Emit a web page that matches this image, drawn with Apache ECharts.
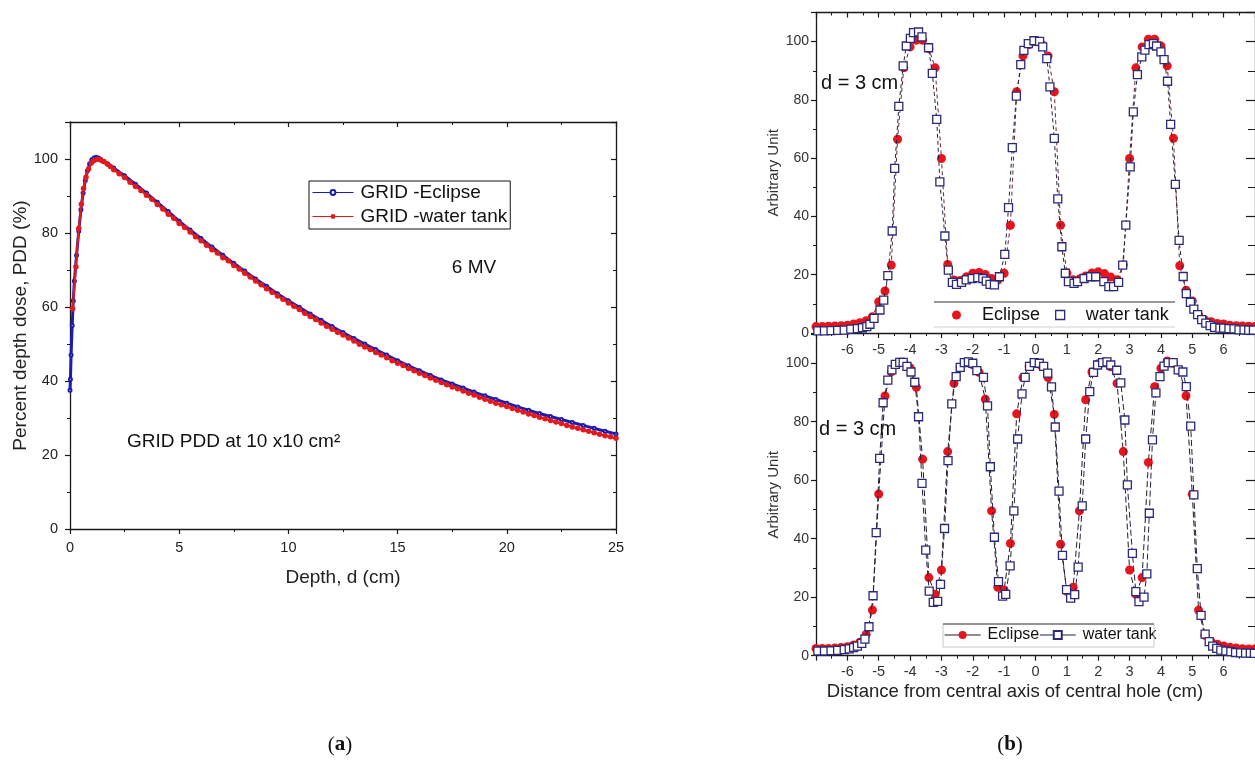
<!DOCTYPE html>
<html>
<head>
<meta charset="utf-8">
<script src="https://cdn.jsdelivr.net/npm/echarts@6/dist/echarts.min.js"></script>
<style>
html,body{margin:0;padding:0;background:#fff;}
#chart{width:1255px;height:765px;}
</style>
</head>
<body>
<div id="chart"></div>
<script>
// ---------- (a) PDD data ----------
const pddEclipse = [[0,37.5],[0.02,40.5],[0.05,47],[0.1,55],[0.15,61.7],[0.2,67],[0.3,74],[0.4,80.5],[0.5,86.3],[0.6,90.8],[0.7,94.2],[0.8,96.8],[0.9,98.7],[1.0,99.8],[1.1,100.3],[1.2,100.5],[1.3,100.3],[1.4,99.9],[1.5,99.4],[1.75,98.5],[2.0,97.6],[2.5,95.5],[3,93.2],[3.5,90.8],[4,88.3],[4.5,85.8],[5,83.2],[5.5,80.8],[6,78.5],[6.5,76.2],[7,74.0],[7.5,71.8],[8,69.7],[8.5,67.6],[9,65.6],[9.5,63.6],[10,61.7],[10.5,59.9],[11,58.1],[11.5,56.4],[12,54.7],[12.5,53.1],[13,51.5],[13.5,50.0],[14,48.5],[14.5,47.0],[15,45.5],[15.5,44.1],[16,42.8],[16.5,41.5],[17,40.3],[17.5,39.2],[18,38.1],[18.5,37.0],[19,36.0],[19.5,35.0],[20,34.0],[20.5,33.0],[21,32.1],[21.5,31.2],[22,30.4],[22.5,29.6],[23,28.8],[23.5,28.0],[24,27.2],[24.5,26.4],[25,25.7]];
const pddWater = [[0.12,59.5],[0.27,70.9],[0.4,81.2],[0.52,87.8],[0.62,92.0],[0.73,95.1],[0.85,97.3],[0.98,98.9],[1.1,99.6],[1.25,99.9],[1.4,99.7],[1.55,99.3],[1.7,98.7],[1.85,98.0],
[2.0,97.1],[2.25,96.0],[2.5,95.0],[2.75,93.7],[3.0,92.6],[3.25,91.5],[3.5,90.2],[3.75,89.1],[4.0,87.7],[4.25,86.5],[4.5,85.1],[4.75,84.0],[5.0,82.6],[5.25,81.5],[5.5,80.3],[5.75,79.0],[6.0,77.9],[6.25,76.7],[6.5,75.5],[6.75,74.6],[7.0,73.3],[7.25,72.5],[7.5,71.2],[7.75,70.3],[8.0,69.1],[8.25,68.1],[8.5,67.0],[8.75,66.0],[9.0,64.9],[9.25,64.0],[9.5,63.0],[9.75,62.1],[10.0,61.1],[10.25,60.2],[10.5,59.3],[10.75,58.3],[11.0,57.4],[11.25,56.6],[11.5,55.7],[11.75,54.8],[12.0,54.0],[12.25,53.2],[12.5,52.4],[12.75,51.6],[13.0,50.8],[13.25,49.9],[13.5,49.2],[13.75,48.5],[14.0,47.7],[14.25,47.0],[14.5,46.3],[14.75,45.5],[15.0,44.8],[15.25,44.2],[15.5,43.4],[15.75,42.8],[16.0,42.1],[16.25,41.5],[16.5,40.8],[16.75,40.2],[17.0,39.6],[17.25,39.0],[17.5,38.4],[17.75,37.9],[18.0,37.3],[18.25,36.7],[18.5,36.2],[18.75,35.6],[19.0,35.1],[19.25,34.5],[19.5,34.0],[19.75,33.6],[20.0,33.1],[20.25,32.6],[20.5,32.1],[20.75,31.6],[21.0,31.1],[21.25,30.7],[21.5,30.2],[21.75,29.8],[22.0,29.3],[22.25,28.9],[22.5,28.5],[22.75,28.0],[23.0,27.6],[23.25,27.2],[23.5,26.8],[23.75,26.4],[24.0,26.0],[24.25,25.6],[24.5,25.2],[24.75,24.9],[25.0,24.5]];

// ---------- (b) profile data ----------
const eclipseX = [-7.0,-6.8,-6.6,-6.4,-6.2,-6.0,-5.8,-5.6,-5.4,-5.2,-5.0,-4.8,-4.6,-4.4,-4.2,-4.0,-3.8,-3.6,-3.4,-3.2,-3.0,-2.8,-2.6,-2.4,-2.2,-2.0,-1.8,-1.6,-1.4,-1.2,-1.0,-0.8,-0.6,-0.4,-0.2,0,0.2,0.4,0.6,0.8,1.0,1.2,1.4,1.6,1.8,2.0,2.2,2.4,2.6,2.8,3.0,3.2,3.4,3.6,3.8,4.0,4.2,4.4,4.6,4.8,5.0,5.2,5.4,5.6,5.8,6.0,6.2,6.4,6.6,6.8,7.0];
const eclipseTop = [2.2,2.2,2.3,2.4,2.5,2.7,3.1,3.5,4.2,5.6, 10.7,14.4,23.3,66.5,91.0,98.2,100.5,100.5,97.6,91.0, 59.9,23.5,18.2,18.0,19.3,20.5,20.8,20.1,18.7,18.2, 20.5,37.0,82.8,95.1,99.0,100.0,99.0,95.1,82.8,37.0, 20.6,18.3,18.5,19.6,20.6,21.0,20.4,19.2,18.3,23.4, 59.9,91.0,98.2,100.8,100.8,98.5,91.7,66.8,23.1,14.7, 11.0,6.2,4.5,3.9,3.3,3.1,2.7,2.5,2.4,2.3,2.2];
const eclipseBottom = [2.5,2.5,2.5,2.6,2.8,3.1,3.7,4.6,7.3,15.6, 55.3,88.8,97.1,99.8,100.3,98.5,91.8,67.2,26.7,21.0, 29.3,69.8,93.1,98.5,100.5,99.5,96.9,87.7,49.5,23.4, 22.5,38.4,82.7,95.1,99.0,100.0,99.0,95.1,82.5,38.1, 22.0,23.4,49.5,87.5,97.0,99.8,100.5,98.8,93.1,69.8, 29.3,21.0,26.7,66.1,92.0,98.3,100.8,100.0,97.4,88.9, 55.2,15.6,7.0,4.8,3.9,3.3,2.9,2.6,2.4,2.3,2.3];
const waterTop = [[-6.94,0.7],[-6.73,0.7],[-6.52,0.8],[-6.31,0.9],[-6.10,1.0],[-5.89,1.3],[-5.68,1.5],[-5.52,1.8],[-5.38,2.2],[-5.28,3.0],[-5.15,5.0],[-4.96,7.9],[-4.84,11.3],[-4.71,19.7],[-4.57,35.0],[-4.49,56.5],[-4.36,77.8],[-4.22,91.7],[-4.12,98.5],[-3.99,101.1],[-3.89,103.1],[-3.73,103.3],[-3.62,101.6],[-3.41,97.9],[-3.29,89.1],[-3.15,73.3],[-3.05,51.9],[-2.89,33.3],[-2.78,21.6],[-2.65,17.4],[-2.52,16.7],[-2.36,17.4],[-2.21,18.2],[-2.02,18.7],[-1.84,19.0],[-1.68,18.7],[-1.57,17.8],[-1.45,16.7],[-1.31,16.5],[-1.15,19.3],[-0.98,27.0],[-0.86,43.0],[-0.74,63.6],[-0.61,81.3],[-0.47,92.1],[-0.37,97.0],[-0.23,99.3],[-0.05,100.3],[0.13,100.1],[0.23,98.2],[0.36,94.2],[0.46,84.5],[0.60,66.8],[0.71,46.0],[0.84,29.6],[0.95,20.5],[1.05,17.6],[1.23,17.0],[1.34,17.6],[1.55,18.7],[1.76,19.3],[1.92,19.3],[2.18,17.6],[2.34,15.9],[2.49,15.9],[2.65,17.4],[2.78,23.3],[2.88,37.0],[3.02,57.0],[3.12,75.9],[3.25,88.7],[3.39,94.8],[3.49,97.1],[3.62,99.0],[3.76,99.3],[3.86,98.5],[4.00,96.5],[4.10,93.8],[4.21,86.4],[4.31,71.6],[4.46,51.0],[4.58,31.8],[4.71,19.4],[4.81,13.5],[4.94,10.5],[5.05,8.2],[5.17,6.3],[5.30,4.6],[5.43,3.4],[5.57,2.5],[5.71,1.9],[5.88,1.7],[6.00,1.7],[6.17,1.5],[6.33,1.4],[6.49,1.1],[6.65,1.1],[6.80,1.0],[6.95,1.0]];
const waterBottom = [[-6.94,1.6],[-6.73,1.6],[-6.52,1.7],[-6.31,1.8],[-6.10,2.1],[-5.94,2.3],[-5.80,2.8],[-5.68,3.3],[-5.54,4.2],[-5.44,5.7],[-5.31,9.9],[-5.18,20.5],[-5.08,42.1],[-4.97,67.5],[-4.86,86.5],[-4.71,94.2],[-4.58,97.7],[-4.47,99.6],[-4.33,100.3],[-4.22,100.3],[-4.10,98.9],[-3.97,97.0],[-3.85,93.5],[-3.73,81.7],[-3.62,58.9],[-3.50,36.1],[-3.39,22.1],[-3.26,18.2],[-3.12,18.6],[-3.03,24.4],[-2.90,43.5],[-2.79,66.7],[-2.67,86.1],[-2.53,95.4],[-2.40,98.6],[-2.27,100.2],[-2.14,100.5],[-2.00,100.0],[-1.87,97.5],[-1.66,95.2],[-1.53,85.4],[-1.44,64.6],[-1.31,40.5],[-1.18,25.3],[-1.05,20.4],[-0.95,21.0],[-0.81,30.7],[-0.69,49.5],[-0.57,74.1],[-0.43,89.5],[-0.33,95.2],[-0.19,98.9],[-0.04,100.2],[0.12,100.0],[0.26,98.9],[0.39,96.6],[0.51,91.9],[0.63,78.2],[0.75,56.3],[0.86,34.3],[0.99,22.6],[1.12,19.7],[1.25,20.9],[1.36,30.3],[1.49,51.2],[1.60,74.1],[1.73,90.3],[1.85,96.9],[1.98,99.4],[2.14,100.2],[2.28,100.5],[2.40,99.4],[2.59,97.6],[2.72,93.3],[2.85,80.6],[2.93,58.4],[3.09,35.0],[3.20,21.9],[3.30,18.5],[3.46,20.0],[3.55,28.0],[3.63,48.7],[3.73,73.8],[3.84,89.9],[3.97,95.4],[4.10,99.0],[4.23,100.2],[4.39,100.2],[4.55,97.7],[4.70,97.0],[4.81,92.0],[4.95,78.5],[5.05,55.0],[5.16,29.8],[5.28,13.8],[5.41,7.4],[5.54,4.8],[5.65,3.3],[5.78,2.5],[5.91,1.9],[6.07,1.6],[6.23,1.4],[6.38,1.1],[6.54,1.0],[6.70,0.9],[6.85,0.9],[6.98,0.8]];

// tick label sets
const pddXTicks = {min:0, max:25, interval:5};
const pddYTicks = {min:0, max:110, interval:20};
const profXTicks = {min:-7, max:7, interval:1};
const profYTicks = {min:0, max:110, interval:20};

const FONT = 'Liberation Sans, Arial, sans-serif';
const AX = '#1a1a1a';

function mainAxis(t, opts) {
  return Object.assign({
    type:'value', min:t.min, max:t.max, interval:t.interval,
    axisLine:{show:true, onZero:false, lineStyle:{color:AX, width:1.3}},
    axisTick:{show:true, inside:false, length:5, lineStyle:{color:AX, width:1.2}},
    minorTick:{show:true, splitNumber:2, length:3, lineStyle:{color:AX, width:1}},
    splitLine:{show:false}, minorSplitLine:{show:false},
    axisLabel:{fontFamily:FONT, fontSize:14.5, color:'#222'}
  }, opts);
}
function boxAxis(t, opts, len) {
  return Object.assign({
    type:'value', min:t.min, max:t.max, interval:t.interval,
    axisLine:{show:true, onZero:false, lineStyle:{color:AX, width:1.3}},
    axisTick:{show:true, inside:true, length:len || 5, lineStyle:{color:AX, width:1.2}},
    minorTick:{show:true, splitNumber:2, length:(len || 5) - 2, lineStyle:{color:AX, width:1}},
    splitLine:{show:false}, axisLabel:{show:false}
  }, opts);
}

const chart = echarts.init(document.getElementById('chart'), null, {renderer:'canvas'});
const option = {
  animation:false,
  backgroundColor:'#fff',
  textStyle:{fontFamily:FONT},
  grid:[
    {left:70, top:122, width:546, height:407},
    {left:816, top:12.5, width:445, height:320.5},
    {left:816, top:334, width:445, height:321.7}
  ],
  xAxis:[
    mainAxis(pddXTicks, {gridIndex:0, position:'bottom', name:'Depth, d (cm)', nameLocation:'middle', nameGap:39,
      nameTextStyle:{fontFamily:FONT, fontSize:19, color:'#222'}, axisLabel:{fontFamily:FONT, fontSize:14.5, color:'#222', margin:11}}),
    boxAxis(pddXTicks, {gridIndex:0, position:'top'}),
    mainAxis(profXTicks, {gridIndex:1, position:'bottom', axisLabel:{fontFamily:FONT, fontSize:14.5, color:'#333', margin:9, showMinLabel:false, showMaxLabel:false}}),
    boxAxis(profXTicks, {gridIndex:1, position:'top'}),
    mainAxis(profXTicks, {gridIndex:2, position:'bottom', axisLabel:{fontFamily:FONT, fontSize:14.5, color:'#333', margin:9, showMinLabel:false, showMaxLabel:false}})
  ],
  yAxis:[
    mainAxis(pddYTicks, {gridIndex:0, position:'left', name:'Percent depth dose, PDD (%)', nameLocation:'middle', nameGap:39,
      nameTextStyle:{fontFamily:FONT, fontSize:19, color:'#222'}, axisLabel:{fontFamily:FONT, fontSize:14.5, color:'#222', margin:12, showMaxLabel:false}}),
    boxAxis(pddYTicks, {gridIndex:0, position:'right'}),
    mainAxis(profYTicks, {gridIndex:1, position:'left', name:'Arbitrary Unit', nameLocation:'middle', nameGap:24,
      nameTextStyle:{fontFamily:FONT, fontSize:15, color:'#333'}, axisLabel:{fontFamily:FONT, fontSize:14, color:'#333', margin:7, showMaxLabel:false}}),
    boxAxis(profYTicks, {gridIndex:1, position:'right'}, 9),
    mainAxis(profYTicks, {gridIndex:2, position:'left', name:'Arbitrary Unit', nameLocation:'middle', nameGap:24,
      nameTextStyle:{fontFamily:FONT, fontSize:15, color:'#333'}, axisLabel:{fontFamily:FONT, fontSize:14, color:'#333', margin:7, showMaxLabel:false}}),
    boxAxis(profYTicks, {gridIndex:2, position:'right'}, 9)
  ],
  legend:[
    {data:['GRID -Eclipse','GRID -water tank'], orient:'vertical', left:309, top:181,
     itemWidth:41, itemHeight:6, itemGap:5, padding:[2,3,3,3],
     borderColor:'#111', borderWidth:1, backgroundColor:'#fff',
     lineStyle:{width:1},
     textStyle:{fontFamily:FONT, fontSize:19, color:'#111', padding:[0,0,0,2]}},
    {data:[{name:'Eclipse', icon:'circle', itemStyle:{color:'#e8141c', borderWidth:0}},
           {name:'water tank', icon:'rect', itemStyle:{color:'#fff', borderColor:'#2a2a78', borderWidth:1.3}}],
     left:952, top:306, itemWidth:9, itemHeight:9, itemGap:15, padding:0,
     textStyle:{fontFamily:FONT, fontSize:18, color:'#111', padding:[0,0,0,16]}},
    {data:['Eclipse ','water tank '], left:944, top:627, itemWidth:36, itemHeight:10, itemGap:0, padding:0,
     formatter:function(n){return n.trim();},
     lineStyle:{type:'solid', width:1.2},
     textStyle:{fontFamily:FONT, fontSize:16, color:'#111', padding:[0,0,0,2]}}
  ],
  series:[
    {name:'GRID -Eclipse', type:'line', xAxisIndex:0, yAxisIndex:0, data:pddEclipse,
     symbol:'emptyCircle', symbolSize:3, showSymbol:true, showAllSymbol:true,
     lineStyle:{color:'#1c1cb4', width:3}, itemStyle:{color:'#1c1cb4', borderColor:'#1c1cb4', borderWidth:1}, z:2},
    {name:'GRID -water tank', type:'line', xAxisIndex:0, yAxisIndex:0, data:pddWater,
     symbol:'circle', symbolSize:5.5, showSymbol:true, showAllSymbol:true,
     lineStyle:{color:'#e31a1c', width:2.2}, itemStyle:{color:'#e31a1c'}, z:3},
    {name:'Eclipse', type:'line', xAxisIndex:2, yAxisIndex:2, data:eclipseX.map((x,i)=>[x, eclipseTop[i]]),
     symbol:'circle', symbolSize:9, showAllSymbol:true,
     lineStyle:{color:'#6a2a2a', width:1, type:[4,3]}, itemStyle:{color:'#e8141c'}, z:3},
    {name:'water tank', type:'line', xAxisIndex:2, yAxisIndex:2, data:waterTop,
     symbol:'rect', symbolSize:8, showAllSymbol:true,
     lineStyle:{color:'#22224a', width:1, type:[4,3]}, itemStyle:{color:'#fff', borderColor:'#2a2a78', borderWidth:1.3}, z:4},
    {name:'Eclipse ', type:'line', xAxisIndex:4, yAxisIndex:4, data:eclipseX.map((x,i)=>[x, eclipseBottom[i]]),
     symbol:'circle', symbolSize:9, showAllSymbol:true,
     lineStyle:{color:'#2a1a1a', width:1, type:[6,3]}, itemStyle:{color:'#e8141c'}, z:3},
    {name:'water tank ', type:'line', xAxisIndex:4, yAxisIndex:4, data:waterBottom,
     symbol:'rect', symbolSize:8, showAllSymbol:true,
     lineStyle:{color:'#22224a', width:1, type:[6,3]}, itemStyle:{color:'#fff', borderColor:'#2a2a78', borderWidth:1.3}, z:4}
  ],
  graphic:[
    // top-right legend frame lines
    {type:'line', shape:{x1:934, y1:302, x2:1175, y2:302}, style:{stroke:'#333', lineWidth:1}, z:10},
    {type:'line', shape:{x1:934, y1:327, x2:1175, y2:327}, style:{stroke:'#d0d0d0', lineWidth:1}, z:10},
    // bottom-right legend frame
    {type:'rect', shape:{x:943, y:624, width:211, height:23}, style:{fill:'none', stroke:'#c8c8c8', lineWidth:1}, z:10},
    {type:'line', shape:{x1:943, y1:624, x2:1154, y2:624}, style:{stroke:'#444', lineWidth:1}, z:10},
    // annotations
    {type:'text', x:474, y:268, style:{text:'6 MV', font:'19px ' + FONT, fill:'#111', textAlign:'center', textVerticalAlign:'middle'}, z:10},
    {type:'text', x:127, y:442, style:{text:'GRID PDD at 10 x10 cm²', font:'19px ' + FONT, fill:'#111', textAlign:'left', textVerticalAlign:'middle'}, z:10},
    {type:'text', x:821, y:83, style:{text:'d = 3 cm', font:'20px ' + FONT, fill:'#111', textAlign:'left', textVerticalAlign:'middle'}, z:10},
    {type:'text', x:819, y:429, style:{text:'d = 3 cm', font:'20px ' + FONT, fill:'#111', textAlign:'left', textVerticalAlign:'middle'}, z:10},
    {type:'text', x:1015, y:692, style:{text:'Distance from central axis of central hole (cm)', font:'18.5px ' + FONT, fill:'#222', textAlign:'center', textVerticalAlign:'middle'}, z:10},
    {type:'text', x:340, y:745, style:{text:'{n|(}{b|a}{n|)}', textAlign:'center', textVerticalAlign:'middle',
      rich:{n:{fontFamily:'Liberation Serif, serif', fontSize:21, fill:'#111'}, b:{fontFamily:'Liberation Serif, serif', fontSize:21, fontWeight:'bold', fill:'#111'}}}, z:10},
    {type:'text', x:1010, y:745, style:{text:'{n|(}{b|b}{n|)}', textAlign:'center', textVerticalAlign:'middle',
      rich:{n:{fontFamily:'Liberation Serif, serif', fontSize:21, fill:'#111'}, b:{fontFamily:'Liberation Serif, serif', fontSize:21, fontWeight:'bold', fill:'#111'}}}, z:10}
  ]
};
chart.setOption(option);
</script>
</body>
</html>
